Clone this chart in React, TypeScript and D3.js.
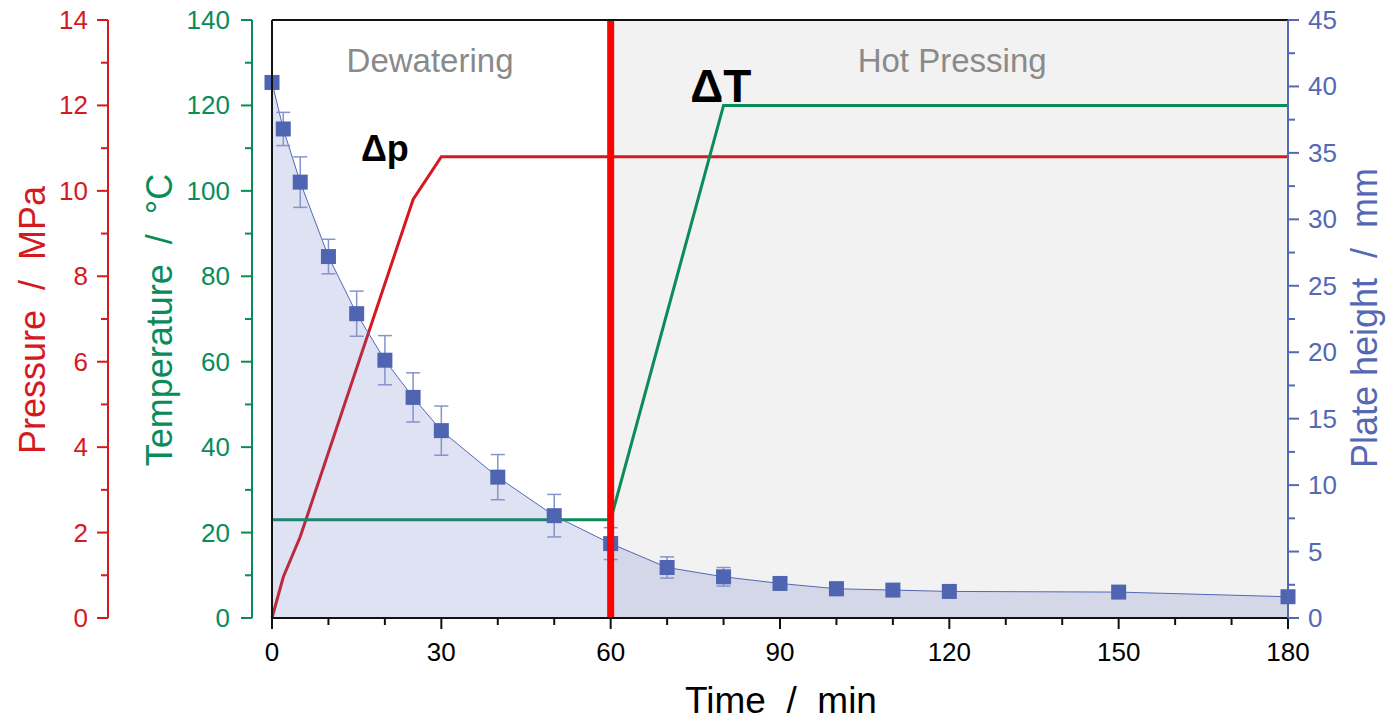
import React from 'react';
import * as d3 from 'd3';

// plate height (blue squares with error bars)
const heightTime = [0, 2, 5, 10, 15, 20, 25, 30, 40, 50, 60, 70, 80, 90, 100, 110, 120, 150, 180];
const heightMm = [40.3, 36.8, 32.8, 27.2, 22.9, 19.4, 16.6, 14.1, 10.6, 7.7, 5.6, 3.8, 3.1, 2.6, 2.2, 2.1, 2.0, 1.95, 1.6];
const heightErr = [0, 1.25, 1.9, 1.3, 1.7, 1.85, 1.85, 1.85, 1.7, 1.6, 1.2, 0.8, 0.7, 0.4, 0.5, 0.4, 0.2, 0, 0];

// pressure program
const pressureTime = [0, 2, 5, 25, 30, 180];
const pressureMPa = [0, 0.96, 1.9, 9.8, 10.8, 10.8];

// temperature program
const tempTime = [0, 60, 80, 180];
const tempC = [23, 23, 120, 120];

const xTicks = [0, 30, 60, 90, 120, 150, 180];
const tempTicks = [0, 20, 40, 60, 80, 100, 120, 140];
const pressureTicks = [0, 2, 4, 6, 8, 10, 12, 14];
const heightTicks = [0, 5, 10, 15, 20, 25, 30, 35, 40, 45];

const phaseSplit = 60;

const RED = '#d41a1f';
const GREEN = '#0a8c58';
const BLUE = '#5468b4';
const FONT = '"Liberation Sans", Arial, sans-serif';
const SEP = '\u00a0\u00a0/\u00a0\u00a0';

export default function App() {
  const left = 272, right = 1288, top = 20, bottom = 618;
  const x = d3.scaleLinear().domain([0, 180]).range([left, right]);
  const yT = d3.scaleLinear().domain([0, 140]).range([bottom, top]);
  const yP = d3.scaleLinear().domain([0, 14]).range([bottom, top]);
  const yH = d3.scaleLinear().domain([0, 45]).range([bottom, top]);

  const pLine = d3.line<number>().x((d, i) => x(pressureTime[i])).y(d => yP(d))(pressureMPa) || '';
  const tLine = d3.line<number>().x((d, i) => x(tempTime[i])).y(d => yT(d))(tempC) || '';
  const hLine = d3.line<number>().x((d, i) => x(heightTime[i])).y(d => yH(d))(heightMm) || '';
  const hArea = d3.area<number>().x((d, i) => x(heightTime[i])).y0(yH(0)).y1(d => yH(d))(heightMm) || '';

  const xMinor = d3.range(0, 181, 10);
  const tMinor = d3.range(0, 141, 10);
  const pMinor = d3.range(0, 14.1, 1);
  const hMinor = d3.range(0, 45.1, 2.5);

  const pAxisX = 108, tAxisX = 252;

  return (
    <svg width={1388} height={720} style={{ position: 'absolute', left: 0, top: 0 }} fontFamily={FONT}>
      <rect x={0} y={0} width={1388} height={720} fill="#fff" />
      {/* hot pressing background */}
      <rect x={x(phaseSplit)} y={top} width={right - x(phaseSplit)} height={bottom - top} fill="#f2f2f2" />

      <text x={x(28)} y={72} textAnchor="middle" fontSize={33} fill="#8a8a8a">Dewatering</text>
      <text x={x(120.5)} y={72} textAnchor="middle" fontSize={33} fill="#8a8a8a">Hot Pressing</text>

      <path d={pLine} fill="none" stroke={RED} strokeWidth={3} />
      <path d={tLine} fill="none" stroke={GREEN} strokeWidth={3} />
      <path d={hArea} fill="#5a6fc4" fillOpacity={0.2} />
      <path d={hLine} fill="none" stroke={BLUE} strokeWidth={1} />

      {heightMm.map((v, i) => {
        const e = heightErr[i];
        if (!e) return null;
        const cx = x(heightTime[i]);
        return (
          <g key={'e' + i} stroke="#8594cc" strokeWidth={1.5}>
            <line x1={cx} x2={cx} y1={yH(v + e)} y2={yH(v - e)} />
            <line x1={cx - 7} x2={cx + 7} y1={yH(v + e)} y2={yH(v + e)} />
            <line x1={cx - 7} x2={cx + 7} y1={yH(v - e)} y2={yH(v - e)} />
          </g>
        );
      })}
      {heightMm.map((v, i) => (
        <rect key={'m' + i} x={x(heightTime[i]) - 7.5} y={yH(v) - 7.5} width={15} height={15} fill="#4f65b2" />
      ))}

      <text x={x(20)} y={yT(107)} textAnchor="middle" fontSize={36} fontWeight="bold" fill="#000">Δp</text>
      <text x={x(79.5)} y={yT(120)} dy={-3} textAnchor="middle" fontSize={46} fontWeight="bold" fill="#000">ΔT</text>

      {/* phase divider */}
      <line x1={x(phaseSplit)} x2={x(phaseSplit)} y1={top} y2={bottom} stroke="#ff0000" strokeWidth={7} />

      {/* frame */}
      <line x1={left} x2={right} y1={top} y2={top} stroke="#111" strokeWidth={2} />
      <line x1={left} x2={left} y1={top} y2={bottom} stroke="#111" strokeWidth={2} />

      {/* bottom axis */}
      <line x1={left} x2={right} y1={bottom} y2={bottom} stroke="#111" strokeWidth={2} />
      {xMinor.map(t => (
        <line key={'xm' + t} x1={x(t)} x2={x(t)} y1={bottom} y2={bottom + (t % 30 === 0 ? 11 : 7)} stroke="#111" strokeWidth={2} />
      ))}
      {xTicks.map(t => (
        <text key={'xt' + t} x={x(t)} y={bottom + 43} textAnchor="middle" fontSize={26} fill="#000">{t}</text>
      ))}
      <text x={781} y={713} textAnchor="middle" fontSize={37} fill="#000">{'Time' + SEP + 'min'}</text>

      {/* right axis: plate height */}
      <line x1={right} x2={right} y1={top} y2={bottom} stroke={BLUE} strokeWidth={2} />
      {hMinor.map(v => (
        <line key={'hm' + v} x1={right} x2={right + (v % 5 === 0 ? 11 : 7)} y1={yH(v)} y2={yH(v)} stroke={BLUE} strokeWidth={2} />
      ))}
      {heightTicks.map(v => (
        <text key={'ht' + v} x={right + 20} y={yH(v)} dy={9} fontSize={26} fill={BLUE}>{v}</text>
      ))}
      <text transform={`translate(1377,318) rotate(-90)`} textAnchor="middle" fontSize={36} fill={BLUE}>{'Plate height' + SEP + 'mm'}</text>

      {/* temperature axis */}
      <line x1={tAxisX} x2={tAxisX} y1={top} y2={bottom} stroke={GREEN} strokeWidth={2} />
      {tMinor.map(v => (
        <line key={'tm' + v} x1={tAxisX} x2={tAxisX - (v % 20 === 0 ? 11 : 7)} y1={yT(v)} y2={yT(v)} stroke={GREEN} strokeWidth={2} />
      ))}
      {tempTicks.map(v => (
        <text key={'tt' + v} x={tAxisX - 22} y={yT(v)} dy={9} textAnchor="end" fontSize={26} fill={GREEN}>{v}</text>
      ))}
      <text transform={`translate(172,320) rotate(-90)`} textAnchor="middle" fontSize={36} fill={GREEN}>{'Temperature' + SEP + '°C'}</text>

      {/* pressure axis */}
      <line x1={pAxisX} x2={pAxisX} y1={top} y2={bottom} stroke={RED} strokeWidth={2} />
      {pMinor.map(v => (
        <line key={'pm' + v} x1={pAxisX} x2={pAxisX - (v % 2 === 0 ? 11 : 7)} y1={yP(v)} y2={yP(v)} stroke={RED} strokeWidth={2} />
      ))}
      {pressureTicks.map(v => (
        <text key={'pt' + v} x={pAxisX - 20} y={yP(v)} dy={9} textAnchor="end" fontSize={26} fill={RED}>{v}</text>
      ))}
      <text transform={`translate(45,320) rotate(-90)`} textAnchor="middle" fontSize={36} fill={RED}>{'Pressure' + SEP + 'MPa'}</text>
    </svg>
  );
}
